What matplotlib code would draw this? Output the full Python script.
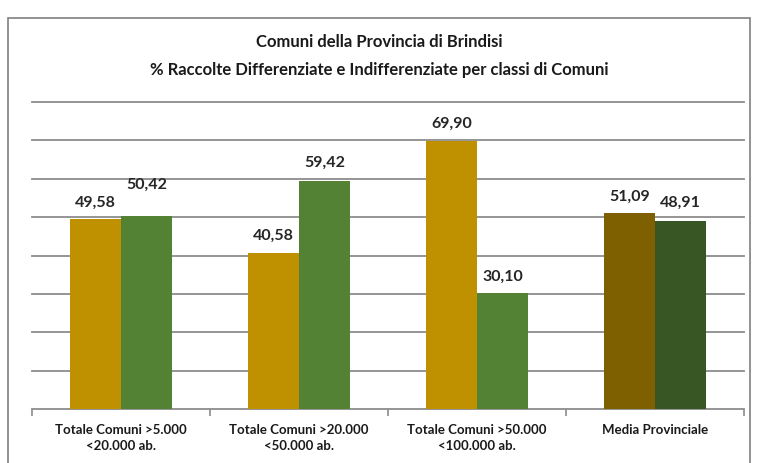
import numpy as np
import matplotlib.pyplot as plt
from matplotlib.patches import Rectangle

# ─── data ──────────────────────────────────────────────────────
categories = [
    "Totale Comuni >5.000\n<20.000 ab.",
    "Totale Comuni >20.000\n<50.000 ab.",
    "Totale Comuni >50.000\n<100.000 ab.",
    "Media Provinciale",
]
differenziata   = [49.58, 40.58, 69.90, 51.09]
indifferenziata = [50.42, 59.42, 30.10, 48.91]

title = ("Comuni della Provincia di Brindisi\n"
         "% Raccolte Differenziate e Indifferenziate per classi di Comuni")

# ─── style ─────────────────────────────────────────────────────
GOLD, GREEN = "#BF9000", "#548235"
GOLD_DK, GREEN_DK = "#7F6000", "#375623"
GRID = "#8C8C8C"
plt.rcParams["font.family"] = ["Lato", "DejaVu Sans"]

# label offsets in points above the bar top (as in the original)
off_a = [7, 8, 8, 7]
off_b = [18, 9, 8, 9]

fig = plt.figure(figsize=(7.58, 4.64), dpi=100)
fig.patches.append(Rectangle((8 / 758, -0.05), 742 / 758, 1 - 19 / 464 + 0.05,
                             transform=fig.transFigure, fill=False,
                             edgecolor="#7F7F7F", lw=1.2))

ax = fig.add_axes([32 / 758, 1 - 410 / 464, 712 / 758, 307 / 464])
x = np.arange(len(categories))
w = 0.285

cols_a = [GOLD, GOLD, GOLD, GOLD_DK]
cols_b = [GREEN, GREEN, GREEN, GREEN_DK]
ba = ax.bar(x - w / 2, differenziata, w, color=cols_a, zorder=3)
bb = ax.bar(x + w / 2, indifferenziata, w, color=cols_b, zorder=3)

fmt = lambda v: f"{v:.2f}".replace(".", ",")
for bars, vals, offs in ((ba, differenziata, off_a), (bb, indifferenziata, off_b)):
    for b, v, o in zip(bars, vals, offs):
        ax.annotate(fmt(v), (b.get_x() + b.get_width() / 2, v),
                    xytext=(0, o), textcoords="offset points",
                    ha="center", va="bottom", fontsize=11.5,
                    fontweight="bold", color="#262626", zorder=4)

ax.set_ylim(0, 80)
ax.set_xlim(-0.5, len(categories) - 0.5)
ax.set_yticks(np.arange(10, 81, 10))
ax.yaxis.grid(True, color=GRID, lw=1.3, zorder=0)
for gl in ax.get_ygridlines():
    gl.set_clip_on(False)
ax.tick_params(axis="y", left=False, labelleft=False)
for s in ("top", "right", "left"):
    ax.spines[s].set_visible(False)
ax.spines["bottom"].set_color(GRID)
ax.spines["bottom"].set_linewidth(1.3)

ax.set_xticks(x)
ax.set_xticklabels(categories, fontsize=9.5, fontweight="bold",
                   color="#1A1A1A", linespacing=1.45)
ax.tick_params(axis="x", length=0, pad=10)
ax.set_xticks(np.arange(-0.5, len(categories)), minor=True)
ax.tick_params(axis="x", which="minor", length=5, color=GRID, width=1.2)

fig.text(0.5, 1 - 56 / 464, title, ha="center", va="center",
         fontsize=12, fontweight="bold", color="#1A1A1A", linespacing=1.85)

fig.savefig("out.png", dpi=100)
